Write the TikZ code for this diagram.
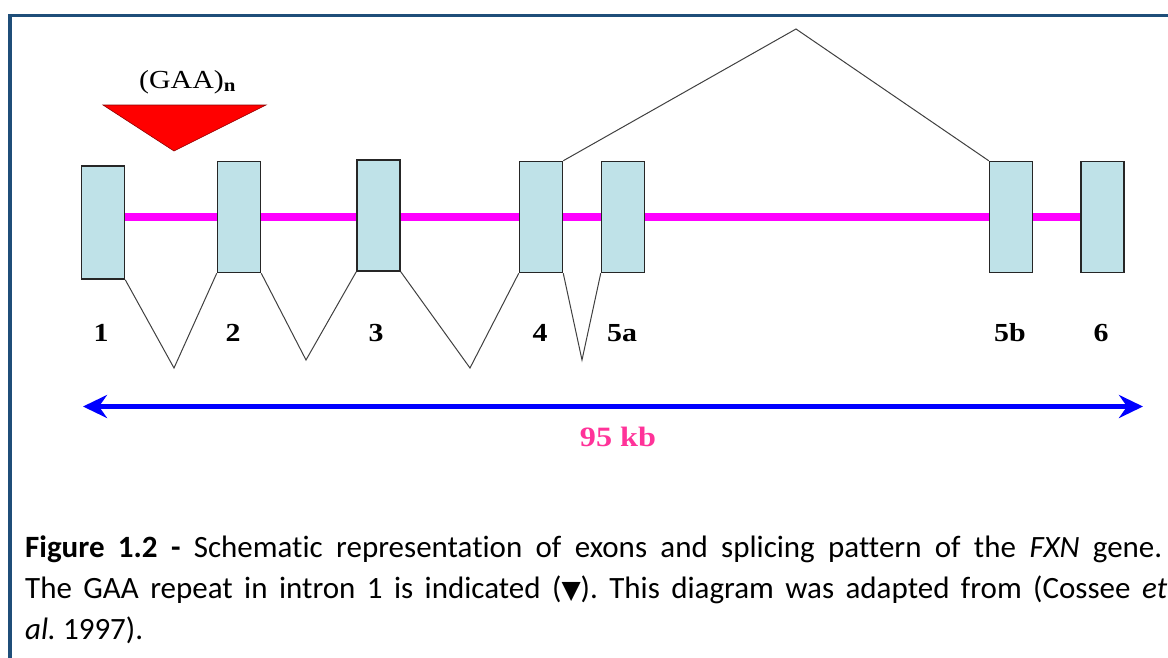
\documentclass[tikz,border=0pt]{standalone}
\usepackage{fontspec}
\setmainfont{Carlito}[Ligatures=NoCommon]
\newfontfamily\slidefont[FakeStretch=1.15]{Liberation Serif}
\newfontfamily\symbfont{DejaVu Sans}
\usetikzlibrary{positioning, arrows.meta, backgrounds}
\definecolor{colFrame}{HTML}{1F4E79}
\definecolor{colExon}{HTML}{BFE2E8}
\definecolor{colIntron}{HTML}{FF00FF}
\definecolor{colScale}{HTML}{0000FF}
\definecolor{colKb}{HTML}{FF3399}
\definecolor{colRepeat}{HTML}{FF0000}
\frenchspacing

\begin{document}
\begin{tikzpicture}[
    x=1pt, y=-1pt,
    >={Stealth[length=24pt, width=23pt, inset=8pt]},
    exon/.style={draw=black!85, line width=1.5pt, fill=colExon,
                 minimum width=43pt, minimum height=111pt, inner sep=0pt},
    intron/.style={line width=8pt, draw=colIntron},
    splice/.style={line width=1pt, draw=black!75},
    scalebar/.style={<->, line width=4.5pt, draw=colScale},
    repeatmark/.style={fill=colRepeat, draw=red!55!black, line width=0.6pt},
    frame/.style={line width=3.5pt, draw=colFrame},
    exlbl/.style={font=\slidefont\bfseries\fontsize{26}{26}\selectfont,
                  inner sep=0pt, anchor=base},
    gaalbl/.style={font=\slidefont\fontsize{26}{26}\selectfont,
                   inner sep=0pt, anchor=base west},
    kblbl/.style={font=\slidefont\bfseries\fontsize{28}{28}\selectfont,
                  text=colKb, inner sep=0pt, anchor=base},
    caption/.style={font=\fontsize{31}{41}\selectfont, inner sep=0pt,
                    anchor=base west},
]
\useasboundingbox (0,0) rectangle (1168,657);

% ---- Frame ------------------------------------------------------------------
\draw[frame] (1170,15.5) -- (10,15.5) -- (10,660);

% ---- Exons ------------------------------------------------------------------
\node[exon, minimum height=113pt] (ex1)  at (103,222.5) {};
\node[exon] (ex2)  at (239,217)   {};
\node[exon] (ex3)  at (378.5,215.5) {};
\node[exon] (ex4)  at (541,217)   {};
\node[exon] (ex5a) at (623,217)   {};
\node[exon] (ex5b) at (1011,217)  {};
\node[exon] (ex6)  at (1102.5,217) {};

% intron backbone behind the exons
\begin{scope}[on background layer]
\draw[intron] (ex1.east |- ex2) -- (ex6.west);
\end{scope}

% ---- Exon labels ------------------------------------------------------------
\node[exlbl] (lbl1)  at (101,341)  {1};
\node[exlbl] (lbl2)  at (233,341)  {2};
\node[exlbl] (lbl3)  at (376,341)  {3};
\node[exlbl] (lbl4)  at (540,341)  {4};
\node[exlbl] (lbl5a) at (622,341)  {5a};
\node[exlbl] (lbl5b) at (1010,341) {5b};
\node[exlbl] (lbl6)  at (1101,341) {6};

% ---- Splicing pattern -------------------------------------------------------
\coordinate (v12) at (174,368);
\coordinate (v23) at (306,360);
\coordinate (v34) at (470,368);
\coordinate (v45) at (582,360);
\coordinate (vtop) at (796,29);

\draw[splice] (ex1.south east) -- (v12) -- (ex2.south west);
\draw[splice] (ex2.south east) -- (v23) -- (ex3.south west);
\draw[splice] (ex3.south east) -- (v34) -- (ex4.south west);
\draw[splice] (ex4.south east) -- (v45) -- (ex5a.south west);
\draw[splice] (ex4.north east) -- (vtop) -- (ex5b.north west);

% ---- GAA repeat in intron 1 -------------------------------------------------
\filldraw[repeatmark] (103,105) -- (266,105) -- (174,151) -- cycle;
\node[gaalbl] (gaa) at (139,88) {(GAA)\textsubscript{\textbf{n}}};

% ---- Size bar ---------------------------------------------------------------
\coordinate (kbL) at (83,406.5);
\coordinate (kbR) at (1143,406.5);
\draw[scalebar] (kbL) -- (kbR);
\node[kblbl] (kb) at (618,446) {95 kb};

% ---- Caption ----------------------------------------------------------------
\node[caption] (cap1) at (25,557) {\makebox[1137pt][s]{\textbf{Figure 1.2 -}
    Schematic representation of exons and splicing pattern of the
    \textit{FXN} gene.}};
\node[caption] (cap2) at (25,598) {\makebox[1142pt][s]{The GAA repeat in
    intron 1 is indicated ({\symbfont\fontsize{25}{25}\selectfont ▼}). This
    diagram was adapted from (Cossee \textit{et}}};
\node[caption] (cap3) at (25,639) {\textit{al.} 1997).};

\end{tikzpicture}
\end{document}
